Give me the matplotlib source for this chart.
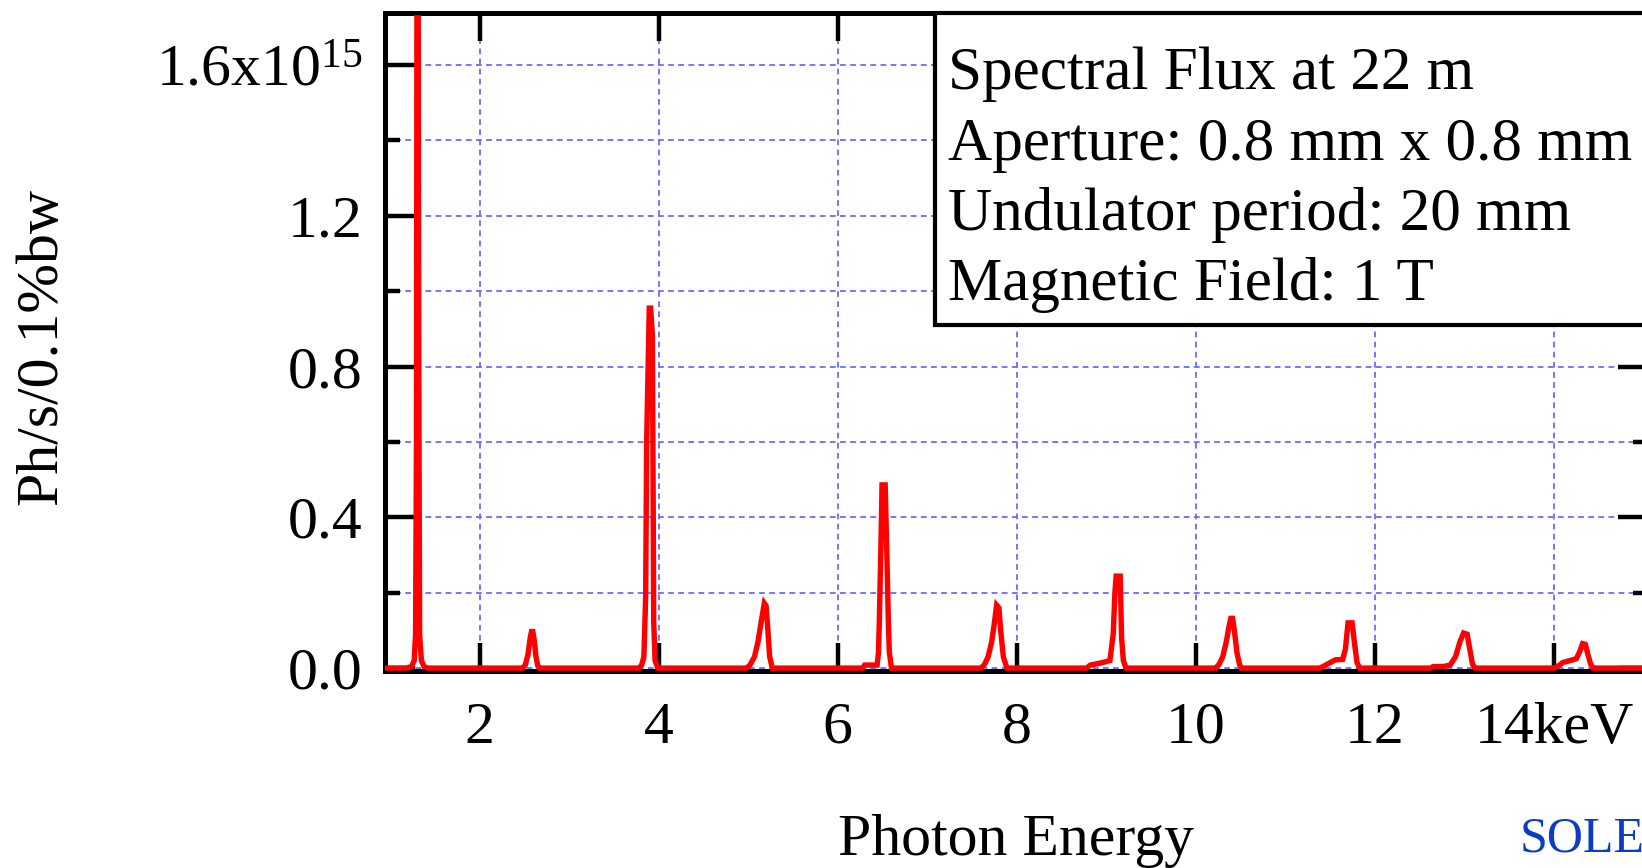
import matplotlib
matplotlib.use("Agg")
import matplotlib.pyplot as plt
from matplotlib.patches import Rectangle
from matplotlib.ticker import FixedLocator

plt.rcParams['font.family'] = ['Liberation Serif', 'DejaVu Serif']
plt.rcParams['mathtext.fontset'] = 'custom'
plt.rcParams['mathtext.rm'] = 'Liberation Serif'
plt.rcParams['mathtext.it'] = 'Liberation Serif'

# ---------------- data (flux in units of 1e15 ph/s/0.1%bw) ----------------
energy_keV = [
    0.944, 1.18, 1.24, 1.27, 1.285, 1.295, 1.300, 1.315, 1.320, 1.330, 1.350, 1.380, 1.420,
    2.48, 2.51, 2.54, 2.565, 2.58, 2.595, 2.61, 2.63, 2.65, 2.67,
    3.78, 3.81, 3.835, 3.855, 3.866, 3.895, 3.91, 3.93, 3.945, 3.96, 3.99,
    4.98, 5.02, 5.07, 5.11, 5.15, 5.18, 5.20, 5.22, 5.24, 5.27,
    6.28, 6.30, 6.44, 6.455, 6.465, 6.483, 6.495, 6.53, 6.553, 6.565, 6.576, 6.60,
    7.60, 7.64, 7.68, 7.72, 7.75, 7.775, 7.80, 7.82, 7.85, 7.89,
    8.78, 8.82, 8.93, 9.04, 9.077, 9.096, 9.11, 9.155, 9.17, 9.19, 9.22,
    10.22, 10.26, 10.30, 10.34, 10.37, 10.39, 10.41, 10.43, 10.46, 10.49, 10.51,
    11.38, 11.42, 11.48, 11.56, 11.64, 11.67, 11.70, 11.745, 11.77, 11.80, 11.83,
    12.62, 12.65, 12.76, 12.84, 12.90, 12.95, 12.99, 13.03, 13.06, 13.09, 13.12,
    14.00, 14.05, 14.10, 14.18, 14.25, 14.29, 14.32, 14.35, 14.38, 14.41, 14.44,
    15.05,
]
flux_e15 = [
    0.0, 0.0, 0.004, 0.02, 0.09, 0.60, 1.725, 1.725, 0.875, 0.09, 0.02, 0.004, 0.0,
    0.0, 0.008, 0.035, 0.08, 0.097, 0.097, 0.075, 0.03, 0.006, 0.0,
    0.0, 0.008, 0.03, 0.19, 0.60, 0.955, 0.955, 0.884, 0.12, 0.02, 0.0,
    0.0, 0.008, 0.03, 0.07, 0.13, 0.172, 0.165, 0.10, 0.03, 0.0,
    0.0, 0.008, 0.008, 0.04, 0.128, 0.33, 0.486, 0.486, 0.26, 0.128, 0.044, 0.0,
    0.0, 0.01, 0.03, 0.07, 0.12, 0.167, 0.16, 0.10, 0.03, 0.0,
    0.0, 0.008, 0.013, 0.02, 0.09, 0.20, 0.244, 0.244, 0.083, 0.02, 0.0,
    0.0, 0.01, 0.03, 0.07, 0.11, 0.132, 0.132, 0.10, 0.04, 0.008, 0.0,
    0.0, 0.004, 0.012, 0.022, 0.023, 0.05, 0.12, 0.12, 0.07, 0.015, 0.0,
    0.0, 0.004, 0.004, 0.008, 0.03, 0.07, 0.093, 0.09, 0.05, 0.01, 0.0,
    0.0, 0.006, 0.015, 0.02, 0.025, 0.045, 0.065, 0.063, 0.035, 0.01, 0.0,
    0.0,
]

x_ticks = [2, 4, 6, 8, 10, 12, 14]
x_tick_labels = ['2', '4', '6', '8', '10', '12', '14keV']
y_ticks = [0.0, 0.4, 0.8, 1.2, 1.6]
y_tick_labels = ['0.0', '0.4', '0.8', '1.2', r'1.6x10$^{15}$']
y_minor_ticks = [0.2, 0.6, 1.0, 1.4]
info_lines = ['Spectral Flux at 22 m', 'Aperture: 0.8 mm x 0.8 mm',
              'Undulator period: 20 mm', 'Magnetic Field: 1 T']

# ---------------- figure ----------------
W, H = 1642, 868
fig = plt.figure(figsize=(W / 100, H / 100), dpi=100)

def fx(px):
    return px / W

def fy(py):
    return 1 - py / H

ax_left, ax_right, ax_top, ax_bottom = 385, 1648, 12.6, 671
ax = fig.add_axes([fx(ax_left), fy(ax_bottom), (ax_right - ax_left) / W, (ax_bottom - ax_top) / H])

ax.plot(energy_keV, flux_e15, color='#ff0000', lw=3.9, zorder=3, solid_joinstyle='miter')

ax.set_xlim(0.9435, 15.05)
ax.set_ylim(-0.0077, 1.739)

ax.set_xticks(x_ticks)
ax.set_xticklabels(x_tick_labels)
ax.set_yticks(y_ticks)
ax.set_yticklabels(y_tick_labels)
ax.yaxis.set_minor_locator(FixedLocator(y_minor_ticks))

for s in ax.spines.values():
    s.set_linewidth(3.6)
    s.set_color('black')

ax.tick_params(axis='both', which='both', direction='in', color='black', width=3.2)
ax.tick_params(axis='y', which='major', length=21.6, left=True, right=True,
               labelsize=43, pad=16)
ax.tick_params(axis='y', which='minor', length=10.8, left=True, right=True)
ax.tick_params(axis='x', which='major', length=20, top=True, bottom=True,
               labelsize=43, pad=22)
ax.tick_params(axis='x', which='minor', bottom=False, top=False)

grid_kw = dict(color='#6b6bff', lw=1.3, dashes=(3.2, 2.4))
ax.grid(True, axis='x', which='major', **grid_kw)
ax.grid(True, axis='y', which='both', **grid_kw)
ax.set_axisbelow(True)

# info box
box = Rectangle((fx(935), fy(325)), (1720 - 935) / W, (325 - 12.6) / H,
                transform=fig.transFigure, facecolor='white', edgecolor='black',
                lw=3.0, zorder=5)
fig.patches.append(box)
for line, base in zip(info_lines, [89, 160, 230, 300]):
    fig.text(fx(948), fy(base), line, fontsize=44, va='baseline', ha='left', zorder=6)

# axis labels
fig.text(fx(1016), fy(855), 'Photon Energy', fontsize=43, ha='center', va='baseline')
fig.text(fx(42), fy(346), 'Ph/s/0.1%bw', fontsize=43, rotation=90,
         ha='center', va='center')
fig.text(fx(1520), fy(852), 'SOLEIL', fontsize=36, color='#0a3cc8',
         ha='left', va='baseline')

fig.savefig('out.png', dpi=100)
